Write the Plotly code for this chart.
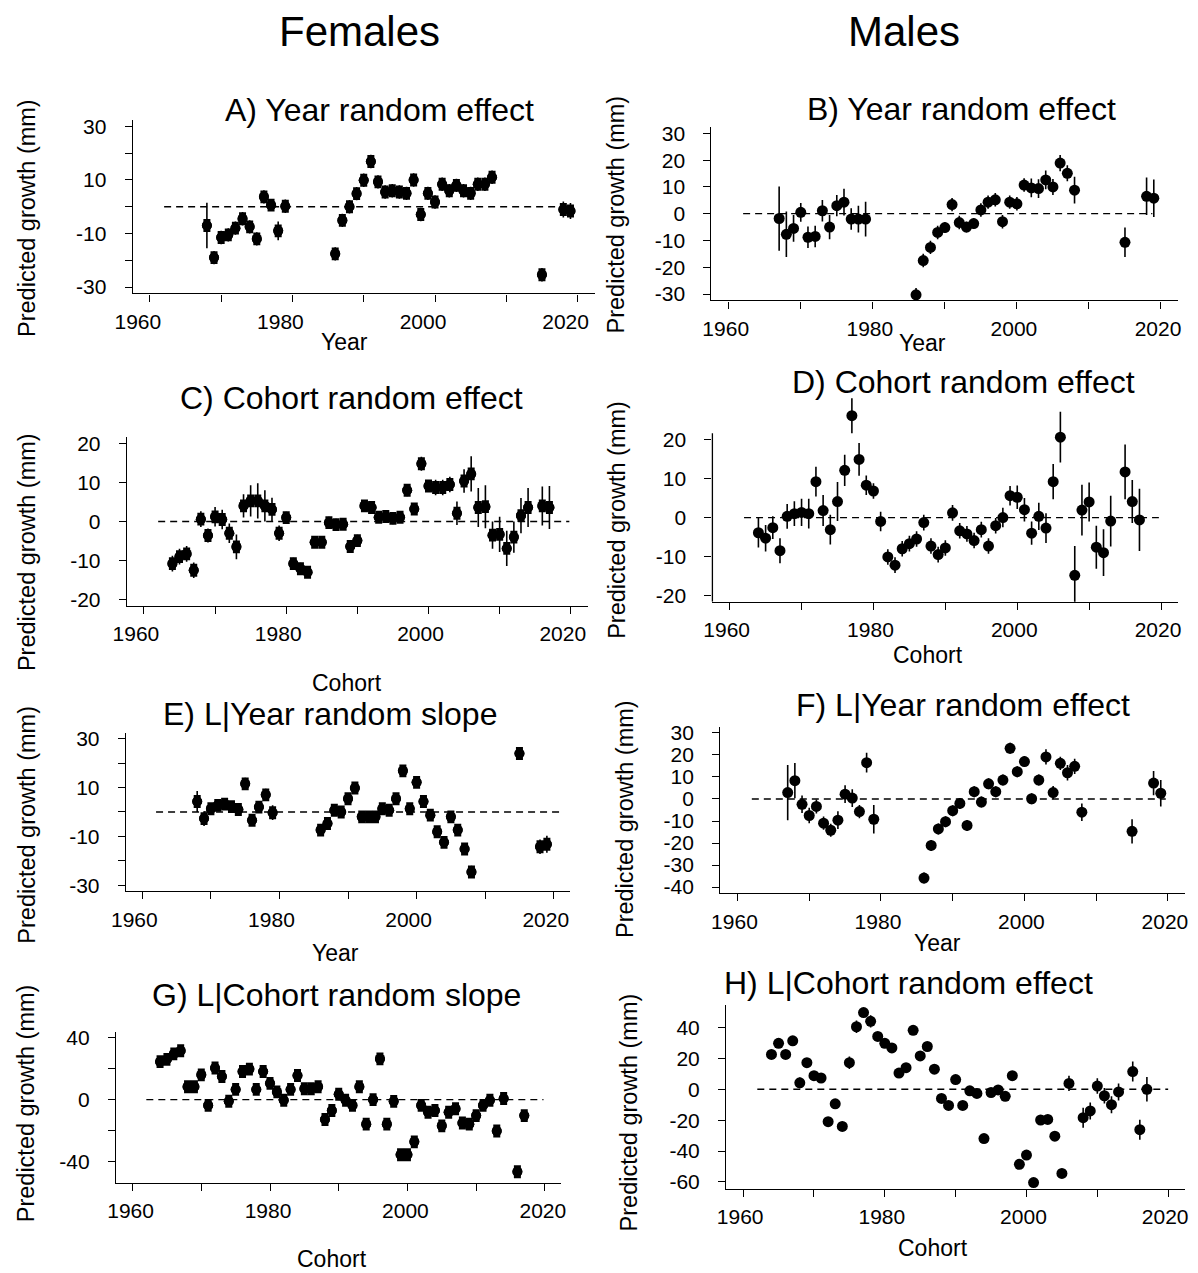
import plotly.graph_objects as go

W, H = 1198, 1273
FONT = "Liberation Sans, Arial, sans-serif"

# ---------------- data ----------------
a_year = [1968, 1969, 1970, 1971, 1972, 1973, 1974, 1975, 1976, 1977, 1978, 1979,
          1986, 1987, 1988, 1989, 1990, 1991, 1992, 1993, 1994, 1995, 1996, 1997,
          1998, 1999, 2000, 2001, 2002, 2003, 2004, 2005, 2006, 2007, 2008,
          2015, 2018, 2019]
a_val = [-7, -19, -11.5, -10.5, -8, -4.5, -7.5, -12, 3.7, 0.6, -9, 0.2,
         -17.6, -5.1, 0, 4.9, 9.9, 16.9, 9.3, 5.5, 6, 5.5, 5, 10,
         -2.9, 5, 1.8, 8.4, 6, 8, 6, 5, 8.4, 8.4, 11,
         -25.4, -1, -1.6]
a_err = [8.5, 2.5, 2.5, 2.5, 2.5, 2.5, 2.5, 2.5, 2.5, 2, 3.5, 2.5,
         2.5, 2.5, 2.5, 2.5, 2.5, 2.5, 2.5, 2.5, 2.5, 2.5, 2.5, 2.5,
         2.5, 2.5, 2.5, 2.5, 2.5, 2.5, 2.5, 2.5, 2.5, 2.5, 2.5,
         2.5, 3, 3]

b_year = [1967, 1968, 1969, 1970, 1971, 1972, 1973, 1974, 1975, 1976, 1977, 1978, 1979,
          1986, 1987, 1988, 1989, 1990, 1991, 1992, 1993, 1994, 1995, 1996, 1997,
          1998, 1999, 2000, 2001, 2002, 2003, 2004, 2005, 2006, 2007, 2008,
          2015, 2018, 2019]
b_val = [-1.8, -7.7, -5.5, 0.5, -8.8, -8.5, 1.1, -5, 3, 4.3, -2, -2, -2,
         -30.3, -17.5, -12.6, -7, -5.2, 3.4, -3.3, -5, -3.7, 1.4, 4.3, 5.2,
         -3, 4.3, 3.7, 10.7, 9.6, 9.4, 12.6, 10, 18.9, 15.1, 8.8,
         -10.7, 6.5, 5.8]
b_err = [12, 8.5, 5, 3.5, 4, 4, 4, 4.5, 4, 5, 4, 5, 6.5,
         2.5, 2.5, 2.5, 2.5, 2, 2.5, 2.5, 2, 2, 2.5, 2.5, 2.5,
         2.5, 2.5, 2.5, 2.5, 3.5, 3.5, 3.5, 3, 3, 3, 5,
         5.5, 7, 7]

c_year = list(range(1964, 2015)) + [2016, 2017]
c_val = [-10.8, -9, -8.3, -12.5, 0.6, -3.6, 1.2, 0.5, -3, -6.5,
         4, 5.3, 5.3, 4, 3.1, -3, 1, -10.8, -12.1, -13,
         -5.3, -5.3, -0.3, -0.8, -0.7, -6.4, -4.9, 4, 3.6, 1.1,
         1.3, 0.8, 1.1, 8, 3.2, 14.8, 9.1, 8.7, 8.7, 9.5,
         2.1, 10.4, 12.2, 3.6, 3.8, -3.5, -3.3, -6.9, -4, 1.5,
         3.6, 4, 3.6]
c_err = [2, 2, 2, 2, 2, 1.8, 2.5, 2.5, 2.5, 3.2,
         3, 4, 4.5, 4, 3, 2, 1.5, 1.5, 1.5, 1.5,
         1.5, 1.5, 1.5, 1.5, 1.5, 1.5, 1.5, 1.5, 1.5, 1.5,
         1.5, 1.5, 1.5, 1.5, 1.5, 1.8, 1.5, 2, 2, 2,
         3, 3, 4.5, 5, 5.5, 3.5, 4.5, 4.5, 4, 4.5,
         5, 5, 5.5]

d_year = list(range(1964, 2007)) + list(range(2008, 2014)) + [2015, 2016, 2017]
d_val = [-3.9, -5.3, -2.6, -8.5, 0.3, 1, 1.3, 1, 9.2, 1.8,
         -3.1, 4.1, 12.1, 26.1, 14.9, 8.3, 6.8, -1, -10.1, -12.2,
         -8, -6.7, -5.5, -1.3, -7.3, -9.5, -7.8, 1.2, -3.4, -4.2,
         -5.9, -3.1, -7.3, -2.1, 0, 5.6, 5.2, 2, -4, 0.3,
         -2.7, 9.2, 20.6,
         -14.8, 1.9, 4, -7.6, -9, -0.9,
         11.7, 4.1, -0.6]
d_err = [3.8, 3.4, 2.9, 3.2, 3.2, 3.2, 3.5, 3.8, 3.8, 4,
         3.8, 5, 4, 4.5, 4.2, 2.5, 2, 2.5, 2, 2,
         2, 2, 2, 2, 2, 2, 2, 2, 2, 2,
         2, 2, 2, 2, 2.5, 2.5, 3, 3, 3, 3.5,
         3.8, 4.5, 6.5,
         7.5, 6.5, 5, 5.5, 6, 6.5,
         7, 5.5, 8]

e_year = list(a_year)
e_val = [4.3, -2.7, 1.3, 2.7, 3.2, 2.2, 1.0, 11.5, -3.4, 2, 7, -0.3,
         -7.4, -4.7, 0.7, 0, 5.4, 9.8, -2, -2, -2, 1.3, 0.7, 5.4,
         16.8, 1.3, 12.1, 4.3, -1.3, -8.1, -12.4, -2, -7.4, -15.1, -24.5,
         23.9, -14.2, -13.2]
e_err = [4.3, 3, 2, 2, 2, 2, 2, 2.5, 2, 2, 2.5, 3,
         2, 2, 2, 2, 2, 2, 2, 2, 2, 2, 2, 2,
         2, 2, 2, 2, 2, 2, 2, 2, 2, 2, 2.5,
         2.5, 3, 3.5]

f_year = list(b_year)
f_val = [2.9, 8.3, -2.4, -7.5, -3.4, -11, -14.2, -9.6, 2.2, 0.4, -5.7, 16.5, -9.2,
         -35.9, -21.1, -13.6, -10.3, -5.3, -2, -12, 3.3, -1.4, 6.9, 3.3, 8.6,
         23, 12.4, 17, 0.1, 8.6, 19.1, 2.9, 16.2, 11.9, 14.8, -6,
         -14.7, 7.2, 2.6]
f_err = [12.5, 8, 4, 3.5, 3.2, 3, 3, 4, 4, 4, 3, 4.5, 6.5,
         2.5, 2.5, 2.5, 2.5, 2.5, 2.5, 2.5, 2.5, 2.5, 2.5, 2.5, 2.5,
         2.5, 2.5, 2.5, 2.5, 2.5, 3.5, 3, 3, 3.5, 3.5, 4,
         5.5, 5.5, 6]

g_year = list(range(1964, 2015)) + [2016, 2017]
g_val = [24.5, 26, 29.5, 31.5, 8.3, 8.3, 16, -3.7, 20.4, 14.9,
         -1, 6.6, 18.2, 19.7, 6.6, 18.2, 10.5, 5, -0.4, 6.6,
         15.6, 7, 7, 8.3, -12.8, -7, 3.5, -0.4, -3.7, 8.3,
         -15.8, 0, 26.3, -15.8, -1.1, -35.5, -35.5, -27.2, -3.7, -8.1,
         -7, -16.9, -8.1, -5.9, -15.1, -15.8, -10.3, -3.7, -0.4, -20.2,
         0.7, -46.5, -10.3]
g_err = [2.5] * 49 + [3, 3, 3.5, 3.5]

h_year = list(range(1964, 2007)) + list(range(2008, 2014)) + [2015, 2016, 2017]
h_val = [22.6, 29.8, 22.6, 31.4, 4.2, 17.2, 8.8, 7.3, -21, -9.4,
         -24.1, 17.2, 40.5, 49.7, 44, 34.2, 29.8, 26.8, 10.5, 14,
         38.2, 21.6, 27.7, 13, -5.9, -10.5, 6.3, -10.5, -1, -2.7,
         -31.9, -2.1, -0.4, -4.6, 8.8, -48.6, -42.6, -60.4, -19.9, -19.5,
         -30.4, -54.5, 3.8,
         -18.4, -14, 2.1, -4.2, -10, -1.7,
         11.5, -26.2, 0]
h_err = [3, 3, 2.5, 2.5, 3.5, 2.5, 3, 3, 3, 3,
         3, 4, 4, 2.5, 4, 2.5, 2.5, 2.5, 2.5, 2.5,
         2.5, 2.5, 2.5, 2.5, 2.5, 2.5, 2.5, 2.5, 2.5, 2.5,
         2.5, 2.5, 2.5, 2.5, 3, 3, 3, 2.5, 2.5, 3,
         3, 3, 5,
         6.5, 5.5, 5, 5, 5.5, 5.5,
         6.5, 6.5, 8]

x_ticks = [1960, 1970, 1980, 1990, 2000, 2010, 2020]
x_text = ["1960", "", "1980", "", "2000", "", "2020"]
X_RANGE = [1957.6, 2022.4]

panels = [
    dict(title="A) Year random effect", xl="Year", x=a_year, y=a_val, e=a_err,
         box=(117, 588, 115, 290), yr=[-32.4, 32.4], axis_top=None,
         yt=[-30, -20, -10, 0, 10, 20, 30], ytt=["-30", "", "-10", "", "10", "", "30"],
         tp=(369, 105), xp=(333, 339), yp=(9, 214), oval=True, shift=-12, z1=2019.5),
    dict(title="B) Year random effect", xl="Year", x=b_year, y=b_val, e=b_err,
         box=(707, 1183, 122, 297), yr=[-32.4, 32.4], axis_top=None,
         yt=[-30, -20, -10, 0, 10, 20, 30], ytt=["-30", "-20", "-10", "0", "10", "20", "30"],
         tp=(962, 104), xp=(922, 340), yp=(610, 210), oval=False, shift=-3, z1=2018.8),
    dict(title="C) Cohort random effect", xl="Cohort", x=c_year, y=c_val, e=c_err,
         box=(111, 581, 435, 605), yr=[-21.6, 21.6], axis_top=None,
         yt=[-20, -10, 0, 10, 20], ytt=["-20", "-10", "0", "10", "20"],
         tp=(340, 395), xp=(335, 683), yp=(9, 551), oval=True, shift=-8, z1=2019.8),
    dict(title="D) Cohort random effect", xl="Cohort", x=d_year, y=d_val, e=d_err,
         box=(708, 1183, 431, 601), yr=[-21.6, 21.6], axis_top=31.5,
         yt=[-20, -10, 0, 10, 20], ytt=["-20", "-10", "0", "10", "20"],
         tp=(964, 379), xp=(928, 655), yp=(610, 518), oval=False, shift=-3, z1=2019.7),
    dict(title="E) L|Year random slope", xl="Year", x=e_year, y=e_val, e=e_err,
         box=(110, 563, 733, 893), yr=[-32.4, 32.4], axis_top=None,
         yt=[-30, -20, -10, 0, 10, 20, 30], ytt=["-30", "", "-10", "", "10", "", "30"],
         tp=(318, 714), xp=(324, 955), yp=(9, 826), oval=True, shift=-8, z1=2021.3),
    dict(title="F) L|Year random effect", xl="Year", x=f_year, y=f_val, e=f_err,
         box=(716, 1190, 727, 895), yr=[-42.8, 32.8], axis_top=None,
         yt=[-40, -30, -20, -10, 0, 10, 20, 30],
         ytt=["-40", "-30", "-20", "-10", "0", "10", "20", "30"],
         tp=(963, 705), xp=(937, 945), yp=(619, 820), oval=False, shift=-3, z1=2019.7),
    dict(title="G) L|Cohort random slope", xl="Cohort", x=g_year, y=g_val, e=g_err,
         box=(100, 554, 1035, 1187), yr=[-53.6, 43.6], axis_top=None,
         yt=[-40, -20, 0, 20, 40], ytt=["-40", "", "0", "", "40"],
         tp=(325, 998), xp=(320, 1264), yp=(9, 1107), oval=True, shift=-2, z1=2019.8),
    dict(title="H) L|Cohort random effect", xl="Cohort", x=h_year, y=h_val, e=h_err,
         box=(722, 1190, 1008, 1193), yr=[-64.4, 54.4], axis_top=None,
         yt=[-60, -40, -20, 0, 20, 40], ytt=["-60", "-40", "-20", "0", "20", "40"],
         tp=(908, 986), xp=(933, 1253), yp=(623, 1116), oval=False, shift=-3, z1=2020),
]


def px(x):
    return x / W


def py(y):
    return 1 - y / H


fig = go.Figure()
annotations = []
shapes = []
layout = {}
for i, p in enumerate(panels, start=1):
    sfx = "" if i == 1 else str(i)
    xa, ya = "x" + sfx, "y" + sfx
    x0, x1, y0, y1 = p["box"]
    lo, hi = p["yr"]
    unit_px = (y1 - y0) / (hi - lo)           # pixels per data unit
    top_val = hi
    if p["axis_top"] is not None:             # room above the axis for an outlying point
        top_val = p["axis_top"]
        y0 = y0 - (top_val - hi) * unit_px

    fig.add_trace(go.Scatter(x=[1962, p["z1"]], y=[0, 0], mode="lines",
                             line=dict(color="black", width=1.3, dash="7px,5px"),
                             xaxis=xa, yaxis=ya, showlegend=False, hoverinfo="skip"))
    fig.add_trace(go.Scatter(x=p["x"], y=p["y"], mode="markers",
                             marker=dict(color="black", size=10 if p["oval"] else 11),
                             error_y=dict(type="data", array=p["e"], visible=True,
                                          color="black", thickness=1.6, width=0),
                             xaxis=xa, yaxis=ya, showlegend=False))
    if p["oval"]:
        # vertically elongated point bodies (oval symbols of the original)
        half = 6.5 / unit_px
        fig.add_trace(go.Scatter(x=p["x"], y=p["y"], mode="markers",
                                 marker=dict(color="black", size=10),
                                 error_y=dict(type="constant", value=half, visible=True,
                                              color="black", thickness=7, width=0),
                                 xaxis=xa, yaxis=ya, showlegend=False, hoverinfo="skip"))

    common = dict(ticks="outside", ticklen=7, tickwidth=1.3, tickcolor="black",
                  showgrid=False, zeroline=False,
                  tickfont=dict(family=FONT, size=21, color="black"))
    layout["xaxis" + sfx] = dict(
        domain=[px(x0), px(x1)], anchor=ya, range=X_RANGE, showline=True,
        linecolor="black", linewidth=1.3,
        tickmode="array", tickvals=x_ticks, ticktext=x_text,
        ticklabelstandoff=2, ticklabelshift=p["shift"], **common)
    layout["yaxis" + sfx] = dict(
        domain=[py(y1), py(y0)], anchor=xa, range=[lo, top_val],
        showline=p["axis_top"] is None, linecolor="black", linewidth=1.3,
        tickmode="array", tickvals=p["yt"], ticktext=p["ytt"], ticklabelstandoff=14, **common)
    if p["axis_top"] is not None:
        shapes.append(dict(type="line", xref=xa + " domain", yref=ya, x0=0, x1=0,
                           y0=lo, y1=hi, line=dict(color="black", width=1.3)))

    annotations.append(dict(text=p["title"], x=px(p["tp"][0]), y=py(p["tp"][1]),
                            xref="paper", yref="paper", showarrow=False,
                            xanchor="center", yanchor="middle",
                            font=dict(family=FONT, size=32, color="black")))
    annotations.append(dict(text=p["xl"], x=px(p["xp"][0]), y=py(p["xp"][1]),
                            xref="paper", yref="paper", showarrow=False,
                            xanchor="center", yanchor="middle",
                            font=dict(family=FONT, size=23, color="black")))
    annotations.append(dict(text="Predicted growth (mm)", x=px(p["yp"][0]), y=py(p["yp"][1]),
                            xref="paper", yref="paper", showarrow=False, textangle=-90,
                            xanchor="center", yanchor="middle",
                            font=dict(family=FONT, size=23.5, color="black")))

annotations.append(dict(text="Females", x=px(348), y=py(26), xref="paper", yref="paper",
                        showarrow=False, xanchor="center", yanchor="middle",
                        font=dict(family=FONT, size=42, color="black")))
annotations.append(dict(text="Males", x=px(903), y=py(26), xref="paper", yref="paper",
                        showarrow=False, xanchor="center", yanchor="middle",
                        font=dict(family=FONT, size=42, color="black")))

fig.update_layout(width=W, height=H, autosize=False,
                  margin=dict(l=0, r=0, t=0, b=0),
                  paper_bgcolor="white", plot_bgcolor="white",
                  annotations=annotations, shapes=shapes, **layout)

fig.write_html("out.html")
